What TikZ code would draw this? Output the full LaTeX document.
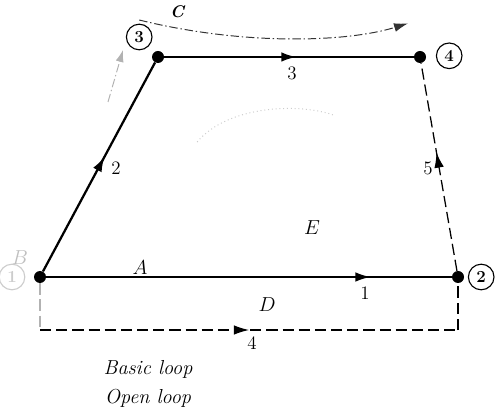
\documentclass[tikz,border=0pt]{standalone}
\usepackage{tikz}
\usetikzlibrary{calc, arrows.meta, decorations.markings}

\tikzset{
  junction/.style={circle, fill=black, inner sep=0pt, minimum size=0.3cm},
  tag/.style={circle, draw, line width=0.8pt, inner sep=1pt, minimum size=0.64cm, font=\large\bfseries},
  branch/.style={line width=1.6pt},
  openbranch/.style={line width=0.9pt, dash pattern=on 8pt off 3.5pt},
  flow/.style={postaction={decorate}, decoration={markings,
    mark=at position #1 with {\arrow{Latex[length=3.8mm, width=2.4mm]}}}},
  loopline/.style={black!80, line width=0.7pt, dash pattern=on 6pt off 2pt on 1pt off 2pt},
  every node/.style={font=\fontsize{13.5}{16}\selectfont},
}

\begin{document}
\begin{tikzpicture}
  \useasboundingbox (0,0) rectangle (12.425,10.425);

  % ---- junctions ----
  \node[junction] (n1) at (1.0, 3.5) {};
  \node[junction] (n2) at (11.45, 3.5) {};
  \node[junction] (n3) at (3.95, 9.0) {};
  \node[junction] (n4) at (10.5, 9.0) {};
  \node[tag, gray!40] (t1) at (0.3, 3.5) {1};
  \node[tag] (t2) at (12.03, 3.5) {2};
  \node[tag] (t3) at (3.48, 9.5) {3};
  \node[tag] (t4) at (11.23, 9.03) {4};

  % ---- tree branches ----
  \draw[branch, flow=0.8] (n1) -- (n2);
  \draw[branch, flow=0.55] (n1) -- (n3);
  \draw[branch, flow=0.53] (n3) -- (n4);
  \node (l1) at (9.125, 3.1) {1};
  \node (l2) at (2.9, 6.225) {2};
  \node (l3) at (7.3, 8.6) {3};

  % ---- links ----
  \draw[openbranch, flow=0.57] (n2) -- (n4);
  \node (l5) at (10.7, 6.225) {5};
  \coordinate (b1) at (1.0, 2.175);
  \coordinate (b2) at (11.45, 2.175);
  \draw[openbranch, gray!60] (n1) -- (b1);
  \draw[openbranch, flow=0.5] (b1) -- (b2);
  \draw[openbranch] (b2) -- (n2);
  \node (l4) at (6.3, 1.85) {4};

  % ---- loops ----
  \coordinate (c1) at (3.48, 9.925);
  \coordinate (c2) at (10.2, 9.84);
  \draw[loopline, -{Latex[length=3.5mm, width=2.2mm]}] (c1) .. controls (6.0, 9.3) and (8.6, 9.35) .. (c2);
  \coordinate (p1) at (2.7, 7.875);
  \coordinate (p2) at (3.075, 9.175);
  \draw[loopline, gray!60, -{Latex[length=3mm, width=2mm]}] (p1) -- (p2);
  \coordinate (e1) at (4.93, 6.875);
  \coordinate (e2) at (8.33, 7.55);
  \draw[loopline, gray!40, dotted] (e1) .. controls (5.7, 7.8) and (7.5, 7.85) .. (e2);

  % ---- labels ----
  \node[font=\large\itshape\bfseries] (lc) at (4.425, 10.125) {C};
  \node[gray!50] (lb) at (0.5, 3.975) {$B$};
  \node (la) at (3.5, 3.725) {$A$};
  \node (le) at (7.8, 4.725) {$E$};
  \node (ld) at (6.675, 2.8) {$D$};
  \node[font=\Large\itshape] (basic) at (3.7, 1.2) {Basic loop};
  \node[font=\Large\itshape] (open) at (3.7, 0.475) {Open loop};
\end{tikzpicture}
\end{document}
